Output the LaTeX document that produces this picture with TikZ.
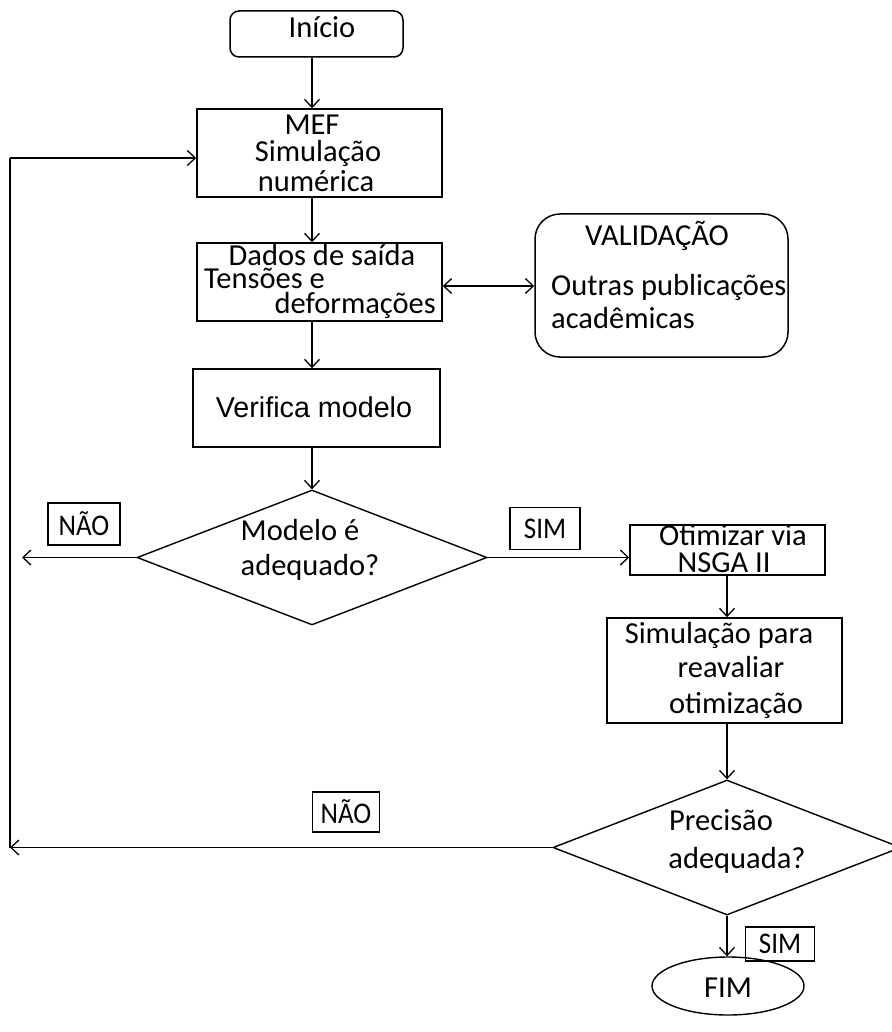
\documentclass[tikz,border=0pt]{standalone}
\usepackage{fontspec}
\setmainfont{Carlito}
\newfontfamily\narrowfont[FakeStretch=0.9]{Carlito}
\newfontfamily\arialfont{Liberation Sans}
\usetikzlibrary{shapes.geometric,arrows.meta}

\tikzset{
  box/.style={draw, line width=1.5pt, inner sep=0pt},
  roundbox/.style={box, rounded corners=#1},
  choice/.style={draw, line width=1.4pt, shape=diamond, inner sep=0pt},
  txt/.style={inner sep=0pt, anchor=base, font=\fontsize{30.5}{34}\selectfont, text=black},
  tag/.style={draw, line width=1.3pt, inner sep=0pt, font=\narrowfont\fontsize{30}{34}\selectfont},
  tip/.style={Straight Barb[length=8pt,width=15pt,line width=1.3pt]},
  flow/.style={line width=1.4pt, -{Straight Barb[length=8pt,width=15pt,line width=1.3pt]}},
  both/.style={line width=1.4pt, {Straight Barb[length=8pt,width=15pt,line width=1.3pt]}-{Straight Barb[length=8pt,width=15pt,line width=1.3pt]}},
  plain/.style={line width=1.4pt}
}

\begin{document}
\begin{tikzpicture}[x=1pt,y=-1pt]
\useasboundingbox (0,0) rectangle (891,1032);

% process boxes
\node[roundbox=9pt, minimum width=173pt, minimum height=46pt] (ini) at (316.5,34) {};
\node[box, minimum width=245pt, minimum height=88pt] (mef) at (319.5,153) {};
\node[box, minimum width=245pt, minimum height=78pt] (dados) at (319.5,282) {};
\node[roundbox=25pt, minimum width=253pt, minimum height=143pt] (valid) at (661.5,285.5) {};
\node[box, minimum width=247pt, minimum height=78pt] (verif) at (316.5,408) {};
\node[choice, minimum width=350pt, minimum height=135pt] (d1) at (312,557.5) {};
\node[box, minimum width=195pt, minimum height=50pt] (otim) at (727.5,550) {};
\node[box, minimum width=235pt, minimum height=105pt] (sim) at (724.5,670.5) {};
\node[choice, minimum width=348pt, minimum height=135pt] (d2) at (727,847.5) {};
\node[draw, line width=1.4pt, ellipse, minimum width=152pt, minimum height=58pt, inner sep=0pt] (fim) at (728,986) {};

% texts
\node[txt] (tini) at (322,38) {Início};
\node[txt] (tmef1) at (312,135) {MEF};
\node[txt] (tmef2) at (318,162) {Simulação};
\node[txt] (tmef3) at (316,192) {numérica};
\node[txt] (tdad1) at (322,265) {Dados de saída};
\node[txt, anchor=base west] (tdad2) at (204,288) {Tensões e};
\node[txt, anchor=base east] (tdad3) at (436,313) {deformações};
\node[txt] (tval1) at (657,245) {VALIDAÇÃO};
\node[txt, anchor=base west] (tval2) at (551,295) {Outras publicações};
\node[txt, anchor=base west] (tval3) at (551,328) {acadêmicas};
\node[txt, font=\arialfont\fontsize{28.7}{33}\selectfont] (tver) at (314,417) {Verifica modelo};
\node[txt] (td11) at (300,540) {Modelo é};
\node[txt] (td12) at (310,575) {adequado?};
\node[txt] (tot1) at (733,545) {Otimizar via};
\node[txt] (tot2) at (724,572) {NSGA II};
\node[txt] (tsi1) at (719,643) {Simulação para};
\node[txt] (tsi2) at (731,677) {reavaliar};
\node[txt] (tsi3) at (736,713) {otimização};
\node[txt] (td21) at (721,830) {Precisão};
\node[txt] (td22) at (737,868) {adequada?};
\node[txt] (tfim) at (728,997) {FIM};

% answer tags
\node[tag, minimum width=72pt, minimum height=42pt] (nao1) at (84,524) {NÃO};
\node[tag, minimum width=70pt, minimum height=42pt] (sim1) at (545,528.5) {SIM};
\node[tag, minimum width=67pt, minimum height=40pt] (nao2) at (346,812) {NÃO};
\node[tag, minimum width=69pt, minimum height=34pt] (sim2) at (780,944) {SIM};

% loop-back corners
\coordinate (back1) at (22,557.5);
\coordinate (corner) at (10,847.5);
\coordinate (top) at (10,158);

% connectors
\draw[flow] (ini.south -| 312,0) -- (mef.north -| 312,0);
\draw[flow] (mef.south -| 312,0) -- (dados.north -| 312,0);
\draw[flow] (dados.south -| 312,0) -- (verif.north -| 312,0);
\draw[flow] (verif.south -| d1.north) -- (d1.north);
\draw[both] (dados.east |- 0,286) -- (valid.west |- 0,286);
\draw[flow] (d1.west) -- (back1);
\draw[flow] (d1.east) -- (otim.west |- d1.east);
\draw[flow] (otim.south -| 727,0) -- (sim.north -| 727,0);
\draw[flow] (sim.south -| d2.north) -- (d2.north);
\draw[flow] (d2.west) -- (corner);
\draw[plain] (corner) -- (top);
\draw[flow] (top) -- (top -| mef.west);
\draw[flow] (d2.south) -- (d2.south |- fim.north);
\end{tikzpicture}
\end{document}
